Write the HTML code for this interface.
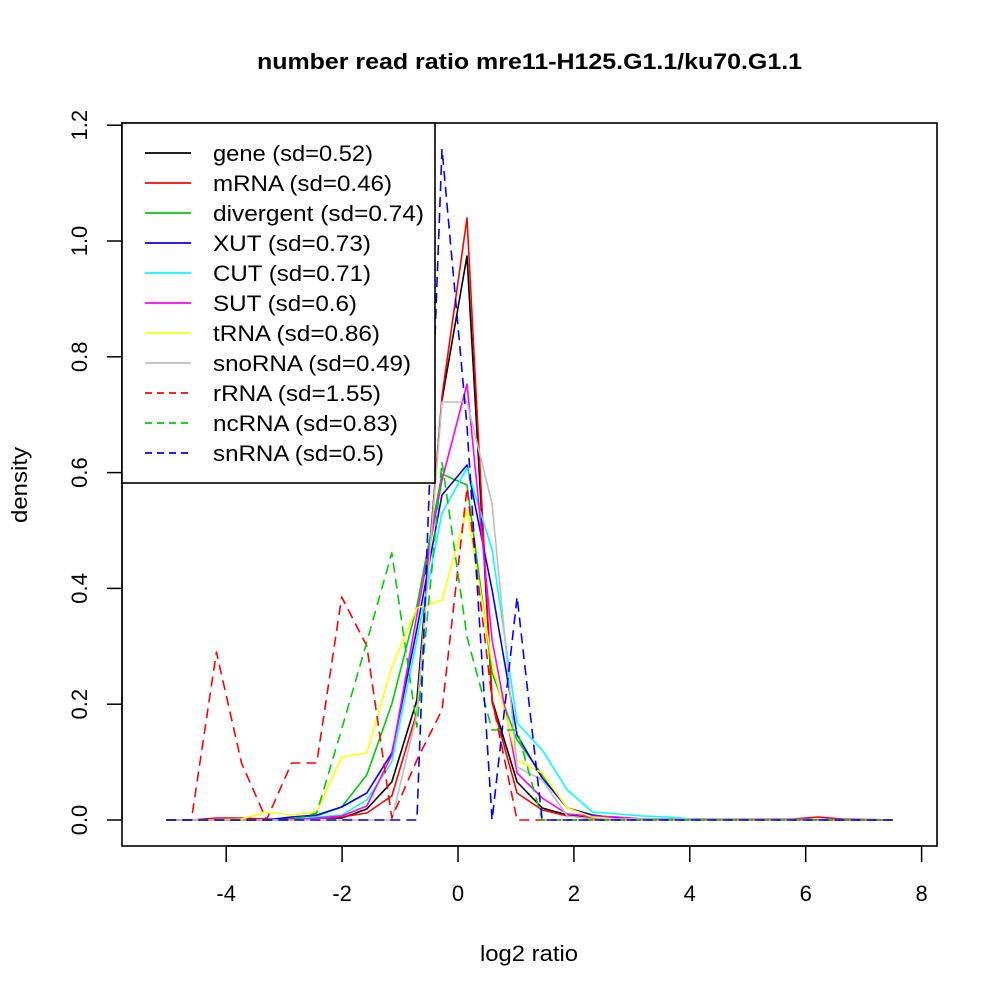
<!DOCTYPE html>
<html>
<head>
<meta charset="utf-8">
<style>
html,body{margin:0;padding:0;background:#fff;}
svg{display:block;}
text{font-family:"Liberation Sans",Arial,sans-serif;fill:#000;}
</style>
</head>
<body>
<svg width="1000" height="1000" viewBox="0 0 1000 1000" xmlns="http://www.w3.org/2000/svg">
<rect x="0" y="0" width="1000" height="1000" fill="#fff"/>

<!-- title -->
<text x="529.5" y="69" font-size="22" font-weight="bold" text-anchor="middle" textLength="545" lengthAdjust="spacingAndGlyphs">number read ratio mre11-H125.G1.1/ku70.G1.1</text>

<!-- data series -->
<g fill="none" stroke-width="1.6" stroke-linejoin="round">
<polyline stroke="#000000" points="166.3,820 266.5,820 291.6,819 316.7,818 341.7,818 366.8,809 391.8,782 416.9,700 442,400 467,256 492.1,700 517.1,782 542.2,808 567.3,815 592.3,818 617.4,819 893,820"/>
<polyline stroke="#ff0000" points="166.3,820 191.4,820 216.4,818 241.5,818 266.5,819 291.6,819 316.7,818 341.7,817 366.8,813 391.8,796 416.9,712 442,396 467,218 492.1,702 517.1,793 542.2,810 567.3,816 592.3,818 617.4,819 792.8,819 817.9,817 842.9,819 893,820"/>
<polyline stroke="#00cd00" points="166.3,820 266.5,820 291.6,817 316.7,816 341.7,807 366.8,775 391.8,704 416.9,606 442,474 467,485 492.1,673 517.1,740 542.2,775 567.3,808 592.3,815 617.4,818 642.4,819 893,820"/>
<polyline stroke="#0000ff" points="166.3,820 266.5,820 291.6,817 316.7,815 341.7,807 366.8,793 391.8,753 416.9,629 442,495 467,465 492.1,590 517.1,735 542.2,778 567.3,808 592.3,815 617.4,818 642.4,819 893,820"/>
<polyline stroke="#00ffff" points="166.3,820 291.6,820 316.7,817 341.7,815 366.8,800 391.8,762 416.9,640 442,513 467,468 492.1,550 517.1,723 542.2,750 567.3,790 592.3,812 617.4,814 642.4,816 667.5,817 692.6,819 893,820"/>
<polyline stroke="#ff00ff" points="166.3,820 291.6,820 316.7,818 341.7,816 366.8,806 391.8,755 416.9,615 442,480 467,384 492.1,640 517.1,773 542.2,798 567.3,814 592.3,816 617.4,817 642.4,819 893,820"/>
<polyline stroke="#ffff00" points="166.3,820 216.4,820 241.5,819 266.5,812 291.6,815 316.7,812 341.7,757 366.8,753 391.8,667 416.9,608 442,600 467,510 492.1,663 517.1,760 542.2,773 567.3,808 592.3,817 617.4,819 893,820"/>
<polyline stroke="#bebebe" points="166.3,820 391.8,820 416.9,714 442,402 467,402 492.1,504 517.1,767 542.2,780 567.3,816 592.3,819 893,820"/>
<polyline stroke="#ff0000" stroke-dasharray="10 6" points="166.3,820 191.4,820 216.4,652 241.5,763 266.5,820 291.6,763 316.7,763 341.7,597 366.8,646 391.8,818 416.9,760 442,710 467,488 492.1,700 517.1,820 893,820"/>
<polyline stroke="#00cd00" stroke-dasharray="10 6" points="166.3,820 291.6,820 316.7,813 341.7,729 366.8,642 391.8,553 416.9,727 442,462 467,637 492.1,730 517.1,730 542.2,820 893,820"/>
<polyline stroke="#0000ff" stroke-dasharray="10 6" points="166.3,820 416.9,820 442,149 467,426 492.1,820 517.1,597 542.2,820 893,820"/>
</g>

<!-- plot box -->
<rect x="122" y="123" width="815" height="723" fill="none" stroke="#000" stroke-width="1.6"/>

<!-- x axis -->
<g stroke="#000" stroke-width="1.5">
<line x1="226.2" y1="846" x2="921.6" y2="846"/>
<line x1="226.2" y1="846" x2="226.2" y2="862"/>
<line x1="342.1" y1="846" x2="342.1" y2="862"/>
<line x1="458" y1="846" x2="458" y2="862"/>
<line x1="573.9" y1="846" x2="573.9" y2="862"/>
<line x1="689.8" y1="846" x2="689.8" y2="862"/>
<line x1="805.7" y1="846" x2="805.7" y2="862"/>
<line x1="921.6" y1="846" x2="921.6" y2="862"/>
</g>
<g font-size="22" text-anchor="middle">
<text x="226.2" y="901">-4</text>
<text x="342.1" y="901">-2</text>
<text x="458" y="901">0</text>
<text x="573.9" y="901">2</text>
<text x="689.8" y="901">4</text>
<text x="805.7" y="901">6</text>
<text x="921.6" y="901">8</text>
</g>
<text x="529" y="961" font-size="22" text-anchor="middle" textLength="98" lengthAdjust="spacingAndGlyphs">log2 ratio</text>

<!-- y axis -->
<g stroke="#000" stroke-width="1.5">
<line x1="122" y1="820" x2="122" y2="125.2"/>
<line x1="107" y1="820" x2="122" y2="820"/>
<line x1="107" y1="704.2" x2="122" y2="704.2"/>
<line x1="107" y1="588.4" x2="122" y2="588.4"/>
<line x1="107" y1="472.6" x2="122" y2="472.6"/>
<line x1="107" y1="356.8" x2="122" y2="356.8"/>
<line x1="107" y1="241" x2="122" y2="241"/>
<line x1="107" y1="125.2" x2="122" y2="125.2"/>
</g>
<g font-size="22" text-anchor="middle">
<text transform="translate(87,820) rotate(-90)">0.0</text>
<text transform="translate(87,704.2) rotate(-90)">0.2</text>
<text transform="translate(87,588.4) rotate(-90)">0.4</text>
<text transform="translate(87,472.6) rotate(-90)">0.6</text>
<text transform="translate(87,356.8) rotate(-90)">0.8</text>
<text transform="translate(87,241) rotate(-90)">1.0</text>
<text transform="translate(87,125.2) rotate(-90)">1.2</text>
</g>
<text transform="translate(27,485) rotate(-90)" font-size="22" text-anchor="middle" textLength="76" lengthAdjust="spacingAndGlyphs">density</text>

<!-- legend -->
<rect x="122" y="123" width="313" height="360" fill="#fff" stroke="#000" stroke-width="1.6"/>
<g stroke-width="1.7">
<line x1="145" y1="153" x2="191" y2="153" stroke="#000000"/>
<line x1="145" y1="183" x2="191" y2="183" stroke="#ff0000"/>
<line x1="145" y1="213" x2="191" y2="213" stroke="#00cd00"/>
<line x1="145" y1="243" x2="191" y2="243" stroke="#0000ff"/>
<line x1="145" y1="273" x2="191" y2="273" stroke="#00ffff"/>
<line x1="145" y1="303" x2="191" y2="303" stroke="#ff00ff"/>
<line x1="145" y1="333" x2="191" y2="333" stroke="#ffff00"/>
<line x1="145" y1="363" x2="191" y2="363" stroke="#bebebe"/>
<line x1="145" y1="393" x2="191" y2="393" stroke="#ff0000" stroke-dasharray="7 5"/>
<line x1="145" y1="423" x2="191" y2="423" stroke="#00cd00" stroke-dasharray="7 5"/>
<line x1="145" y1="453" x2="191" y2="453" stroke="#0000ff" stroke-dasharray="7 5"/>
</g>
<g font-size="22">
<text x="213" y="161" textLength="160" lengthAdjust="spacingAndGlyphs">gene (sd=0.52)</text>
<text x="213" y="191" textLength="179" lengthAdjust="spacingAndGlyphs">mRNA (sd=0.46)</text>
<text x="213" y="221" textLength="211" lengthAdjust="spacingAndGlyphs">divergent (sd=0.74)</text>
<text x="213" y="251" textLength="158" lengthAdjust="spacingAndGlyphs">XUT (sd=0.73)</text>
<text x="213" y="281" textLength="158" lengthAdjust="spacingAndGlyphs">CUT (sd=0.71)</text>
<text x="213" y="311" textLength="144" lengthAdjust="spacingAndGlyphs">SUT (sd=0.6)</text>
<text x="213" y="341" textLength="167" lengthAdjust="spacingAndGlyphs">tRNA (sd=0.86)</text>
<text x="213" y="371" textLength="198" lengthAdjust="spacingAndGlyphs">snoRNA (sd=0.49)</text>
<text x="213" y="401" textLength="168" lengthAdjust="spacingAndGlyphs">rRNA (sd=1.55)</text>
<text x="213" y="431" textLength="185" lengthAdjust="spacingAndGlyphs">ncRNA (sd=0.83)</text>
<text x="213" y="461" textLength="171" lengthAdjust="spacingAndGlyphs">snRNA (sd=0.5)</text>
</g>
</svg>
</body>
</html>
